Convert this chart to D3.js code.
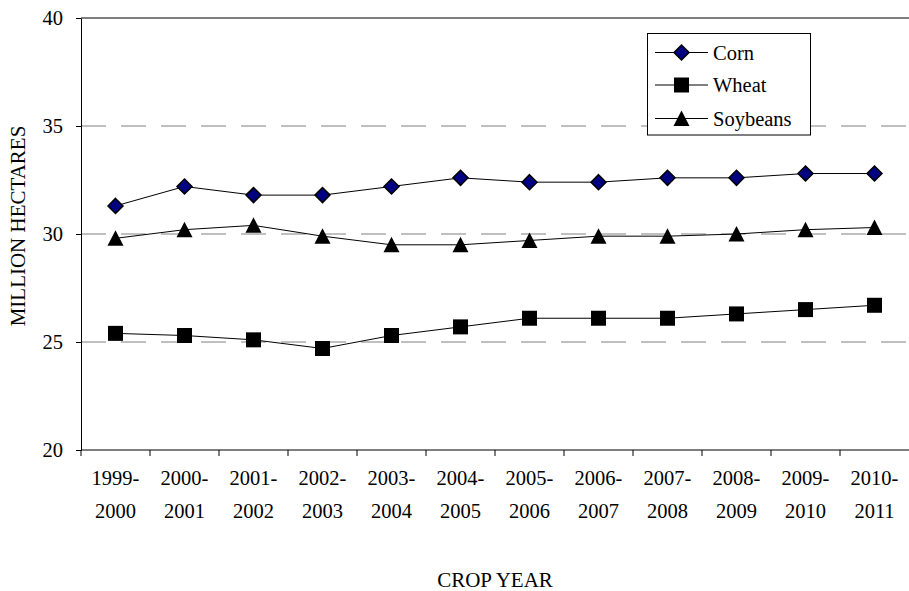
<!DOCTYPE html>
<html>
<head>
<meta charset="utf-8">
<script src="https://cdn.jsdelivr.net/npm/d3@7"></script>
<style>
  html, body { margin: 0; padding: 0; background: #fff; }
  svg, svg text { font-family: "Times New Roman", "Liberation Serif", "DejaVu Serif", serif; }
</style>
</head>
<body>
<svg id="chart" width="909" height="591"></svg>
<script>
// Crop years (two-line labels)
const years = ["1999-2000","2000-2001","2001-2002","2002-2003","2003-2004","2004-2005",
               "2005-2006","2006-2007","2007-2008","2008-2009","2009-2010","2010-2011"];
// Area harvested, million hectares
const corn     = [31.3, 32.2, 31.8, 31.8, 32.2, 32.6, 32.4, 32.4, 32.6, 32.6, 32.8, 32.8];
const wheat    = [25.4, 25.3, 25.1, 24.7, 25.3, 25.7, 26.1, 26.1, 26.1, 26.3, 26.5, 26.7];
const soybeans = [29.8, 30.2, 30.4, 29.9, 29.5, 29.5, 29.7, 29.9, 29.9, 30.0, 30.2, 30.3];
const yTicks = [20, 25, 30, 35, 40];
const gridTicks = [25, 30, 35];

const series = [
  { name: "Corn", values: corn, marker: "diamond" },
  { name: "Wheat", values: wheat, marker: "square" },
  { name: "Soybeans", values: soybeans, marker: "triangle" }
];

const FONT = "'Times New Roman', 'Liberation Serif', 'DejaVu Serif', serif";
const svg = d3.select("#chart").attr("font-family", FONT);
const plotLeft = 81, plotRight = 909, plotTop = 18, plotBottom = 450;

const x = d3.scaleBand().domain(years).range([plotLeft, plotRight]);
const y = d3.scaleLinear().domain([20, 40]).range([plotBottom, plotTop]);
const cx = d => x(d) + x.bandwidth() / 2;

// Marker shapes centred on (0,0)
function markerPath(kind) {
  if (kind === "diamond") return "M0,-7.5L7.5,0L0,7.5L-7.5,0Z";
  if (kind === "square") return "M-7.5,-7.5H7.5V7.5H-7.5Z";
  return "M0,-8L8,7.5H-8Z";
}
function drawMarker(g, kind) {
  const p = g.append("path").attr("d", markerPath(kind));
  if (kind === "diamond") p.attr("fill", "#000080").attr("stroke", "#000").attr("stroke-width", 1.5);
  else p.attr("fill", "#000").attr("stroke", "none");
}

// Dashed gridlines
svg.append("g").selectAll("line").data(gridTicks).join("line")
  .attr("x1", plotLeft).attr("x2", plotRight)
  .attr("y1", d => y(d)).attr("y2", d => y(d))
  .attr("stroke", "#808080").attr("stroke-width", 1)
  .attr("stroke-dasharray", "25,15");

// Top border of plot
svg.append("line").attr("x1", plotLeft).attr("x2", plotRight)
  .attr("y1", y(40)).attr("y2", y(40))
  .attr("stroke", "#000").attr("stroke-width", 1);

// Y axis
const yAxis = svg.append("g").attr("transform", `translate(${plotLeft},0)`)
  .call(d3.axisLeft(y).tickValues(yTicks).tickSize(5).tickPadding(13).tickSizeOuter(0));
yAxis.attr("font-family", FONT).attr("font-size", 20.5);
yAxis.select(".domain").attr("stroke", "#000");
yAxis.selectAll(".tick line").attr("stroke", "#000");
yAxis.selectAll("text").attr("fill", "#000");

// X axis with ticks at category boundaries
svg.append("line").attr("x1", plotLeft).attr("x2", plotRight)
  .attr("y1", plotBottom).attr("y2", plotBottom).attr("stroke", "#000");
svg.append("g").selectAll("line").data(years).join("line")
  .attr("x1", d => x(d)).attr("x2", d => x(d))
  .attr("y1", plotBottom).attr("y2", plotBottom + 6)
  .attr("stroke", "#000");
const xl = svg.append("g").selectAll("text").data(years).join("text")
  .attr("text-anchor", "middle").attr("font-size", 20.5).attr("fill", "#000");
xl.each(function (d) {
  const parts = d.split("-");
  const t = d3.select(this);
  t.append("tspan").attr("x", cx(d)).attr("y", 485).text(parts[0] + "-");
  t.append("tspan").attr("x", cx(d)).attr("y", 517.5).text(parts[1]);
});

// Axis titles
svg.append("text").attr("x", 495).attr("y", 587).attr("text-anchor", "middle")
  .attr("font-size", 21).attr("fill", "#000").text("CROP YEAR");
svg.append("text").attr("transform", "translate(24.5,226) rotate(-90)")
  .attr("text-anchor", "middle").attr("font-size", 21).attr("fill", "#000")
  .text("MILLION HECTARES");

// Series lines and markers
const line = d3.line().x((v, i) => cx(years[i])).y(v => y(v));
series.forEach(s => {
  svg.append("path").datum(s.values).attr("d", line)
    .attr("fill", "none").attr("stroke", "#000").attr("stroke-width", 1);
});
series.forEach(s => {
  s.values.forEach((v, i) => {
    const g = svg.append("g").attr("transform", `translate(${cx(years[i])},${y(v)})`);
    drawMarker(g, s.marker);
  });
});

// Legend
const lg = svg.append("g");
lg.append("rect").attr("x", 647.5).attr("y", 33.5).attr("width", 163).attr("height", 101.5)
  .attr("fill", "#fff").attr("stroke", "#000").attr("stroke-width", 1);
const legendY = [52.5, 85, 118.5];
series.forEach((s, i) => {
  const yy = legendY[i];
  lg.append("line").attr("x1", 655).attr("x2", 708).attr("y1", yy).attr("y2", yy)
    .attr("stroke", "#000").attr("stroke-width", 1);
  drawMarker(lg.append("g").attr("transform", `translate(681.5,${yy})`), s.marker);
  lg.append("text").attr("x", 713).attr("y", yy + 7).attr("font-size", 20.5)
    .attr("fill", "#000").text(s.name);
});
</script>
</body>
</html>
